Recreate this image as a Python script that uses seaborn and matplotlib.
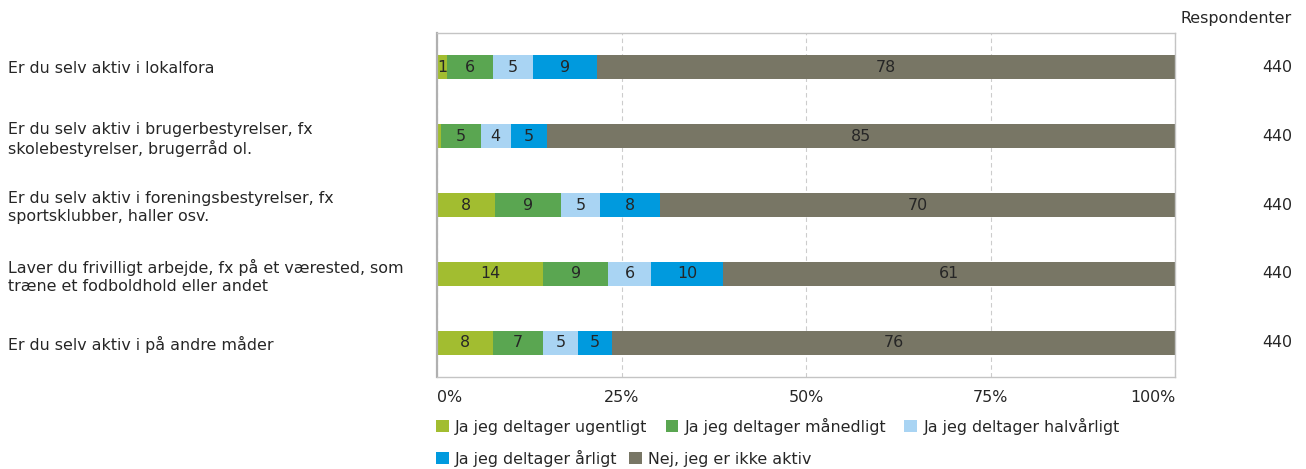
import numpy as np
import seaborn as sns
import matplotlib.pyplot as plt
from matplotlib.patches import Patch
from matplotlib.transforms import blended_transform_factory

questions = [
    "Er du selv aktiv i lokalfora",
    "Er du selv aktiv i brugerbestyrelser, fx\nskolebestyrelser, brugerråd ol.",
    "Er du selv aktiv i foreningsbestyrelser, fx\nsportsklubber, haller osv.",
    "Laver du frivilligt arbejde, fx på et værested, som\ntræne et fodboldhold eller andet",
    "Er du selv aktiv i på andre måder",
]
series = ["Ja jeg deltager ugentligt", "Ja jeg deltager månedligt",
          "Ja jeg deltager halvårligt", "Ja jeg deltager årligt",
          "Nej, jeg er ikke aktiv"]
ugentligt = [1.4, 0.5, 7.9, 14.4, 7.6]
maanedligt = [6.2, 5.4, 8.9, 8.8, 6.8]
halvaarligt = [5.4, 4.1, 5.3, 5.8, 4.7]
aarligt = [8.7, 4.9, 8.1, 9.8, 4.6]
ikke_aktiv = [78.3, 85.1, 69.8, 61.2, 76.3]
respondenter = [440, 440, 440, 440, 440]
colors = ["#a2bd30", "#5aa651", "#a9d4f3", "#009ade", "#787665"]

FS = 11.4

sns.set_style("white")
plt.rcParams["font.family"] = ["DejaVu Sans"]
plt.rcParams["text.color"] = "#262626"
plt.rcParams["xtick.color"] = "#262626"
plt.rcParams["ytick.color"] = "#262626"

vals = np.array([ugentligt, maanedligt, halvaarligt, aarligt, ikke_aktiv]).T
cum = vals.cumsum(axis=1)

fig, ax = plt.subplots(figsize=(13.06, 4.69), dpi=100)
fig.subplots_adjust(left=437/1306, right=1175/1306, top=1-33/469, bottom=1-377/469)

# stacked bars: draw cumulative totals, widest first
for i in reversed(range(len(series))):
    sns.barplot(x=cum[:, i], y=questions, color=colors[i], orient="h",
                width=0.35, saturation=1, linewidth=0, ax=ax)

# segment labels
for j in range(len(questions)):
    left = 0
    for i in range(len(series)):
        v = vals[j, i]
        if v >= 1:
            ax.text(left + v / 2, j, f"{v:.0f}", ha="center", va="center",
                    fontsize=FS, color="#262626")
        left += v

ax.set_xlim(0, 100)
ax.set_xticks([0, 25, 50, 75, 100])
ax.set_xticklabels(["0%", "25%", "50%", "75%", "100%"], fontsize=FS)
xl = ax.get_xticklabels()
xl[0].set_ha("left")
xl[-1].set_ha("right")
ax.tick_params(axis="x", length=0, pad=9)

ax.set_yticks(range(len(questions)))
ax.set_yticklabels(questions, ha="left", fontsize=FS)
for t in ax.get_yticklabels():
    t.set_linespacing(1.25)
ax.tick_params(axis="y", length=0, pad=309)
ax.set_xlabel("")
ax.set_ylabel("")

ax.set_axisbelow(True)
ax.xaxis.grid(True, linestyle=(0, (4, 3)), color="#cccccc", linewidth=0.8)
ax.yaxis.grid(False)
for s in ax.spines.values():
    s.set_visible(True)
    s.set_color("#c4c4c4")
    s.set_linewidth(1)
ax.spines["left"].set_color("#b0b0b0")
ax.spines["left"].set_linewidth(1.6)

trans = blended_transform_factory(ax.transAxes, ax.transData)
for j, n in enumerate(respondenter):
    ax.text(1.1585, j, str(n), transform=trans, ha="right", va="center", fontsize=FS)
fig.text(1292/1306, 1-18/469, "Respondenter", ha="right", va="center", fontsize=FS)

handles = [Patch(facecolor=c, edgecolor="none") for c in colors]
legkw = dict(loc="center left", frameon=False, fontsize=FS, handlelength=0.8,
             handleheight=0.8, handletextpad=0.4, borderpad=0, borderaxespad=0)
fig.legend(handles[:3], series[:3], bbox_to_anchor=(436/1306, 1-426/469), ncol=3,
           columnspacing=1.15, **legkw)
fig.legend(handles[3:], series[3:], bbox_to_anchor=(436/1306, 1-458/469), ncol=2,
           columnspacing=0.75, **legkw)

fig.savefig("out.png", dpi=100)
